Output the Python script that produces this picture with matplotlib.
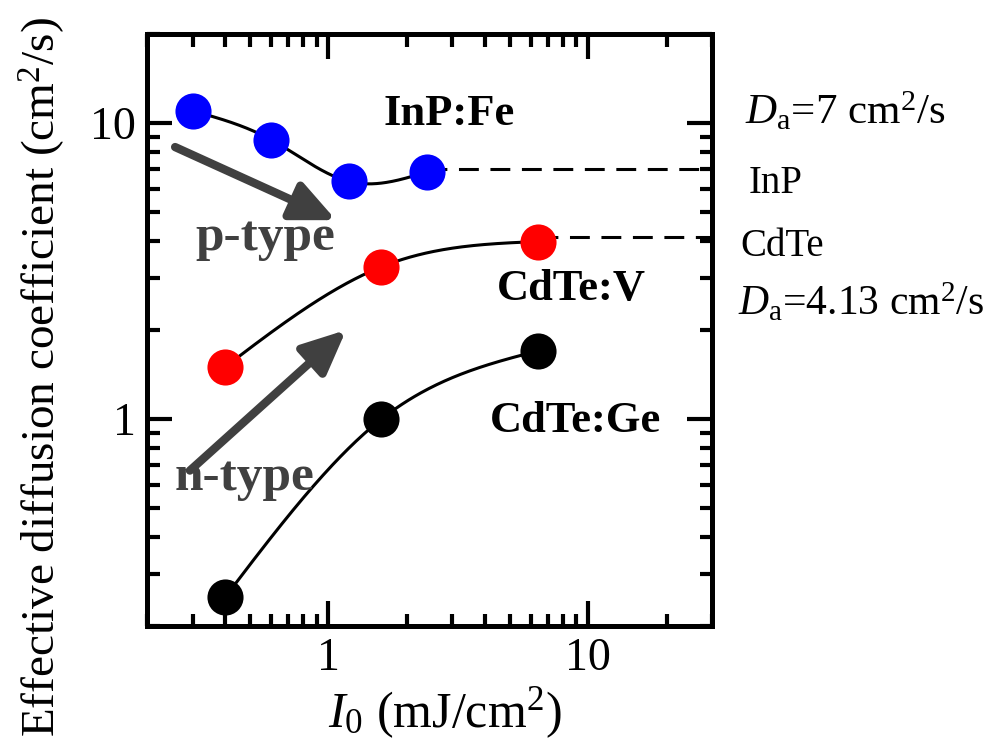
import matplotlib
matplotlib.use("Agg")
import matplotlib.pyplot as plt
import numpy as np

plt.rcParams["font.family"] = ["Liberation Serif", "DejaVu Serif"]
plt.rcParams["mathtext.fontset"] = "custom"
plt.rcParams["mathtext.rm"] = "Liberation Serif"
plt.rcParams["mathtext.it"] = "Liberation Serif:italic"

# data
inp_x = [0.3, 0.6, 1.2, 2.4]
inp_y = [11.0, 8.8, 6.35, 6.85]
cdte_v_x = [0.4, 1.6, 6.4]
cdte_v_y = [1.5, 3.27, 3.98]
cdte_ge_x = [0.4, 1.6, 6.4]
cdte_ge_y = [0.25, 1.0, 1.70]
da_inp = 7.0
da_cdte = 4.13

x_lim = (0.2, 30)
y_lim = (0.2, 20)

DARK = "#404040"


def smooth_curve(xs, ys, n=200):
    # natural cubic spline through the points in log-log space
    lx, ly = np.log10(xs), np.log10(ys)
    k = len(lx)
    h = np.diff(lx)
    a = np.zeros((k, k))
    r = np.zeros(k)
    a[0, 0] = a[-1, -1] = 1.0
    for i in range(1, k - 1):
        a[i, i - 1] = h[i - 1]
        a[i, i] = 2 * (h[i - 1] + h[i])
        a[i, i + 1] = h[i]
        r[i] = 6 * ((ly[i + 1] - ly[i]) / h[i] - (ly[i] - ly[i - 1]) / h[i - 1])
    m = np.linalg.solve(a, r)
    gx, gy = [], []
    for i in range(k - 1):
        t = np.linspace(lx[i], lx[i + 1], n // (k - 1))
        u = (t - lx[i]) / h[i]
        v = 1 - u
        s = (v * ly[i] + u * ly[i + 1]
             + h[i] ** 2 / 6 * ((v ** 3 - v) * m[i] + (u ** 3 - u) * m[i + 1]))
        gx.extend(t)
        gy.extend(s)
    return 10 ** np.array(gx), 10 ** np.array(gy)


fig = plt.figure(figsize=(9.92, 7.56), dpi=100)
ax = fig.add_axes([0.148, 0.172, 0.570, 0.783])
ax.set_xscale("log")
ax.set_yscale("log")
ax.set_xlim(*x_lim)
ax.set_ylim(*y_lim)

for xs, ys, color in [
    (inp_x, inp_y, "#0000ff"),
    (cdte_v_x, cdte_v_y, "#ff0000"),
    (cdte_ge_x, cdte_ge_y, "#000000"),
]:
    cx, cy = smooth_curve(xs, ys)
    ax.plot(cx, cy, color="black", lw=2.2, zorder=2)
    ax.plot(xs, ys, "o", color=color, ms=26, mec="none", zorder=3)

ax.plot([inp_x[-1], x_lim[1]], [da_inp, da_inp], color="black", lw=2.2,
        dashes=(6.5, 3.8), zorder=1, clip_on=False)
ax.plot([cdte_v_x[-1], x_lim[1]], [da_cdte, da_cdte], color="black", lw=2.2,
        dashes=(6.5, 3.8), zorder=1, clip_on=False)

arrow = dict(arrowstyle="-|>,head_length=1.1,head_width=0.5", lw=6,
             color=DARK, shrinkA=0, shrinkB=0, mutation_scale=24)
ax.annotate("", xy=(1.07, 4.7), xytext=(0.257, 8.3), arrowprops=arrow)
ax.annotate("", xy=(1.17, 2.0), xytext=(0.293, 0.67), arrowprops=arrow)

ax.text(0.418, 0.846, "InP:Fe", transform=ax.transAxes, fontsize=32,
        fontweight="bold", ha="left", va="baseline")
ax.text(0.619, 0.551, "CdTe:V", transform=ax.transAxes, fontsize=32,
        fontweight="bold", ha="left", va="baseline")
ax.text(0.607, 0.328, "CdTe:Ge", transform=ax.transAxes, fontsize=32,
        fontweight="bold", ha="left", va="baseline")
ax.text(0.085, 0.635, "p-type", transform=ax.transAxes, fontsize=37,
        fontweight="bold", color=DARK, ha="left", va="baseline")
ax.text(0.05, 0.23, "n-type", transform=ax.transAxes, fontsize=37,
        fontweight="bold", color=DARK, ha="left", va="baseline")

ax.text(1.058, 0.848, r"$D_{\mathrm{a}}$=7 cm$^2$/s", transform=ax.transAxes,
        fontsize=31, ha="left", va="baseline")
ax.text(1.064, 0.731, "InP", transform=ax.transAxes, fontsize=28,
        ha="left", va="baseline")
ax.text(1.05, 0.625, "CdTe", transform=ax.transAxes, fontsize=28,
        ha="left", va="baseline")
ax.text(1.046, 0.525, r"$D_{\mathrm{a}}$=4.13 cm$^2$/s", transform=ax.transAxes,
        fontsize=30, ha="left", va="baseline")

ax.set_xlabel(r"$I_0$ (mJ/cm$^2$)", fontsize=36)
ax.xaxis.set_label_coords(0.527, -0.1)
ax.set_ylabel("Effective diffusion coefficient (cm$^2$/s)", fontsize=34)
ax.yaxis.set_label_coords(-0.142, 0.42)

for side in ax.spines.values():
    side.set_linewidth(3.6)
ax.tick_params(which="both", direction="in", top=True, right=True,
               labelsize=33, width=3)
ax.tick_params(which="major", length=18, pad=8)
ax.tick_params(which="minor", length=9)
ax.set_xticks([1, 10])
ax.set_xticklabels(["1", "10"])
ax.set_yticks([1, 10])
ax.set_yticklabels(["1", "10"])

fig.savefig("out.png", dpi=100)
